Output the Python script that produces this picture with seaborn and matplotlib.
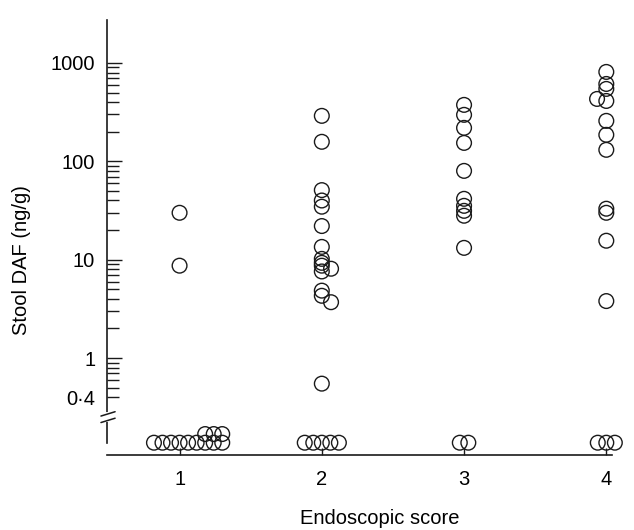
import numpy as np
import pandas as pd
import matplotlib
matplotlib.use("Agg")
import matplotlib.pyplot as plt
import matplotlib.ticker as mticker
import matplotlib.transforms as mtransforms
import seaborn as sns

# -------------------------
# DATA (stool DAF, ng/g; 0 = below detection)
# -------------------------
scores = [1, 2, 3, 4]
daf_1 = [30, 8.7, 0, 0, 0, 0, 0, 0, 0, 0, 0, 0, 0, 0]
daf_2 = [290, 158, 51, 40, 34.6, 22, 13.5, 10.2, 9.3, 8.7, 8.1, 7.6,
         4.85, 4.3, 3.7, 0.55, 0, 0, 0, 0, 0]
daf_3 = [375, 297, 219, 154, 80, 41.6, 35.3, 31.4, 28, 13.2, 0, 0]
daf_4 = [811, 612, 545, 431, 411, 258, 186, 131, 33, 30, 15.6, 3.8, 0, 0, 0]
y_major = [1, 10, 100, 1000]
y_major_labels = ["1", "10", "100", "1000"]
x_label = "Endoscopic score"
y_label = "Stool DAF (ng/g)"

# points drawn beside the column in the original (direction only)
nudged = {(2, 8.1): 1, (2, 3.7): 1, (4, 431): -1}

# -------------------------
# LAYOUT
# -------------------------
NUDGE = 0.065        # x units, sideways shift for crowded points
ZERO_STEP = 0.06     # x units between undetectable points in a row
ROW_MAX = 9
ZERO_Y = 10 ** -0.86  # where "0" values sit below the axis break
ROW_RISE = 10 ** 0.088


def layout(group, vals):
    rows = []
    zeros = [v for v in vals if v == 0]
    for v in vals:
        if v > 0:
            rows.append((group, v, group + nudged.get((group, v), 0) * NUDGE, v))
    n = len(zeros)
    first = min(n, ROW_MAX)
    xs = group + (np.arange(first) - (first - 1) / 2) * ZERO_STEP
    extra = n - first
    if extra > 0:
        # a second row sits on the right end, so the whole block leans right
        xs = xs + extra * ZERO_STEP / 3
    for x in xs:
        rows.append((group, 0, x, ZERO_Y))
    if extra > 0:
        for x in xs[-extra:]:
            rows.append((group, 0, x, ZERO_Y * ROW_RISE))
    return rows


records = []
for g, vals in zip(scores, [daf_1, daf_2, daf_3, daf_4]):
    records += layout(g, vals)
df = pd.DataFrame(records, columns=["score", "daf", "x", "y"])

# -------------------------
# PLOT
# -------------------------
sns.set_style("ticks")
plt.rcParams["font.family"] = ["Liberation Sans", "DejaVu Sans"]
plt.rcParams["text.color"] = "black"
plt.rcParams["axes.labelcolor"] = "black"
plt.rcParams["xtick.color"] = "black"
plt.rcParams["ytick.color"] = "black"

fig = plt.figure(figsize=(6.34, 5.30), dpi=100)
ax = fig.add_axes([0.1688, 0.1415, 0.7965, 0.8208])

sns.scatterplot(data=df, x="x", y="y", ax=ax, marker="o", s=112,
                facecolor="none", edgecolor="#1a1a1a", linewidth=1.0,
                legend=False, clip_on=False, zorder=3)

ax.set_yscale("log")
ax.set_ylim(10 ** -0.985, 10 ** 3.437)
ax.set_xlim(0.49, 4.04)

# y ticks
ax.yaxis.set_major_locator(mticker.FixedLocator(y_major))
ax.yaxis.set_major_formatter(mticker.FixedFormatter(y_major_labels))
minor = [m * d for d in [0.1, 1, 10, 100] for m in range(2, 10)]
minor = [v for v in minor if v >= 0.4]
ax.yaxis.set_minor_locator(mticker.FixedLocator(minor))
ax.yaxis.set_minor_formatter(mticker.FuncFormatter(
    lambda v, p: "0\u00b74" if abs(v - 0.4) < 1e-9 else ""))
ax.tick_params(axis="y", which="major", direction="in", length=10.5,
               width=1, pad=8.5, labelsize=14.5, color="#1a1a1a",
               labelcolor="black")
ax.tick_params(axis="y", which="minor", direction="in", length=8.5,
               width=1, pad=8.5, labelsize=14.5, color="#1a1a1a",
               labelcolor="black")

# x ticks
ax.set_xticks(scores)
ax.set_xticklabels([str(s) for s in scores])
ax.tick_params(axis="x", direction="in", length=5, width=1, pad=11,
               labelsize=14.5, color="#1a1a1a", labelcolor="black")

for side in ["top", "right"]:
    ax.spines[side].set_visible(False)
for side in ["left", "bottom"]:
    ax.spines[side].set_linewidth(1.2)
    ax.spines[side].set_color("#1a1a1a")
ax.spines["left"].set_bounds(ZERO_Y, 10 ** 3.437)

# axis break on the y spine
trans = mtransforms.blended_transform_factory(ax.transAxes, ax.transData)
brk = 10 ** -0.6
ax.plot([0, 0], [brk * 10 ** -0.03, brk * 10 ** 0.03], transform=trans,
        color="white", lw=3, clip_on=False, zorder=4)
for off in [-0.033, 0.033]:
    c = brk * 10 ** off
    ax.plot([-0.012, 0.016], [c * 10 ** -0.022, c * 10 ** 0.022],
            transform=trans, color="#1a1a1a", lw=1.1, clip_on=False, zorder=5)

ax.set_xlabel(x_label, fontsize=14.5)
ax.set_ylabel(y_label, fontsize=14.5)
ax.xaxis.set_label_coords(0.54, -0.124)
ax.yaxis.set_label_coords(-0.15, 0.448)

fig.savefig("out.png", dpi=100, facecolor="white")
